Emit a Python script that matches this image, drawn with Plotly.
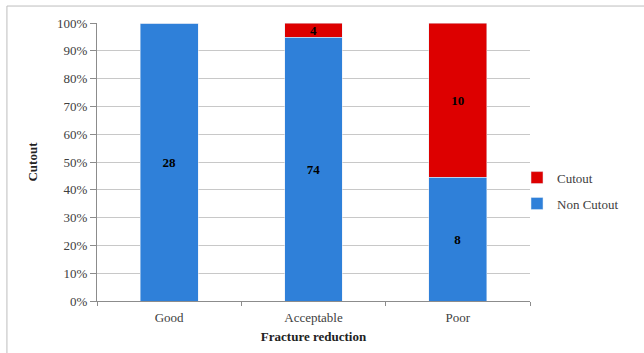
import plotly.graph_objects as go

categories = ["Good", "Acceptable", "Poor"]
non_cutout = [28, 74, 8]
cutout = [0, 4, 10]

BLUE = "#2F80D9"
RED = "#DD0000"
FONT = "Liberation Serif"

def labels(vals):
    return [str(v) if v else "" for v in vals]

fig = go.Figure()
fig.add_trace(go.Bar(
    x=categories, y=non_cutout, name="Non Cutout", marker_color=BLUE,
    text=labels(non_cutout), textposition="inside", insidetextanchor="middle",
    textangle=0, textfont=dict(family=FONT, size=13, color="black", weight="bold"),
    legendrank=2, legendgroup="non",
))
fig.add_trace(go.Bar(
    x=categories, y=cutout, name="Cutout", marker_color=RED,
    text=labels(cutout), textposition="inside", insidetextanchor="middle",
    textangle=0, textfont=dict(family=FONT, size=13, color="black", weight="bold"),
    legendrank=1, legendgroup="cut",
))

fig.update_layout(
    width=644, height=353,
    margin=dict(l=97, r=114, t=23, b=52, autoexpand=False),
    barmode="stack", barnorm="percent", bargap=0.6,
    plot_bgcolor="white", paper_bgcolor="white",
    font=dict(family=FONT, size=13, color="#404040"),
    uniformtext=dict(minsize=13, mode="show"),
    showlegend=True,
    legend=dict(x=0.97, y=0.397, xanchor="left", yanchor="middle",
                traceorder="grouped", tracegroupgap=6,
                bgcolor="rgba(0,0,0,0)",
                font=dict(family=FONT, size=13, color="#404040"),
                itemwidth=30),
    xaxis=dict(
        showline=True, linecolor="#8C8C8C", linewidth=1,
        ticks="outside", tickson="boundaries", ticklen=4, tickcolor="#8C8C8C",
        ticklabelstandoff=4,
        title=dict(text="<b>Fracture reduction</b>", standoff=8,
                   font=dict(family=FONT, size=13, color="#222222")),
        tickfont=dict(family=FONT, size=13, color="#404040"),
    ),
    yaxis=dict(
        range=[0, 100], dtick=10, ticksuffix="%",
        showline=True, linecolor="#8C8C8C", linewidth=1,
        showgrid=True, gridcolor="#C8C8C8", gridwidth=1,
        ticks="outside", ticklen=6, tickcolor="#8C8C8C",
        zeroline=False,
        title=dict(text="<b>Cutout</b>", standoff=16,
                   font=dict(family=FONT, size=13, color="#222222")),
        tickfont=dict(family=FONT, size=13, color="#404040"),
    ),
    shapes=[
        dict(type="line", xref="paper", yref="paper",
             x0=-0.208, x1=1.3, y0=1.061, y1=1.061,
             line=dict(color="#BDBDBD", width=1)),
        dict(type="line", xref="paper", yref="paper",
             x0=-0.208, x1=-0.208, y0=1.061, y1=-0.2,
             line=dict(color="#BDBDBD", width=1)),
    ],
)

fig.write_html("out.html")
